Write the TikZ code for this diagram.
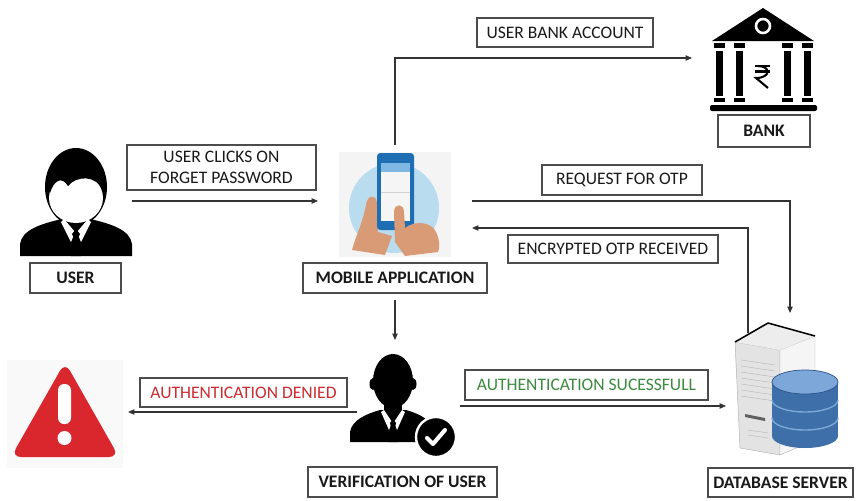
\documentclass[tikz,border=0pt]{standalone}
\usepackage{fontspec}
\setmainfont{Carlito}
\usetikzlibrary{arrows.meta,calc}

\definecolor{warnred}{HTML}{D9272D}
\definecolor{txtred}{HTML}{CC2B30}
\definecolor{txtgreen}{HTML}{3B8A3E}
\definecolor{skin}{HTML}{D99B76}
\definecolor{phone}{HTML}{1F6DB3}
\definecolor{phonelt}{HTML}{80B8E4}
\definecolor{bubble}{HTML}{BADCEF}
\definecolor{dbbody}{HTML}{3E6FA9}
\definecolor{dbtop}{HTML}{7CA7D8}
\definecolor{dbedge}{HTML}{2A5288}

\begin{document}
\begin{tikzpicture}[x=0.03cm, y=-0.03cm,
    box/.style ={draw=black!70, line width=1.1pt, inner sep=0pt, align=center,
                 text=black!90, font=\fontsize{15}{17.5}\selectfont},
    namebox/.style ={box, font=\fontsize{15}{17.5}\selectfont\bfseries},
    icon/.style ={inner sep=0pt, outer sep=0pt},
    arr/.style ={-{Triangle[length=1.9mm, width=1.6mm]}, line width=1pt, black!80}]
   \useasboundingbox (0,0) rectangle (862,500);

   % areas taken by the pictures
   \node[icon, minimum width=3.36cm, minimum height=3.24cm] (usr)  at (76,201)    {};
   \node[icon, minimum width=4.62cm, minimum height=3.36cm] (app)  at (395,201)   {};
   \node[icon, minimum width=4.26cm, minimum height=3.18cm] (bank) at (763,58)    {};
   \node[icon, minimum width=3.09cm, minimum height=3.96cm] (ver)  at (408.5,406) {};
   \node[icon, minimum width=3.63cm, minimum height=3.24cm] (warn) at (67.5,414)  {};
   \node[icon, minimum width=3.84cm, minimum height=4.41cm] (db)   at (790,386.5) {};

   % user
   \fill (20,256) -- (20,244) .. controls (22,230) and (40,224) .. (62,219) -- (90,219)
         .. controls (112,224) and (130,230) .. (132,244) -- (132,256) -- cycle;
   \fill (65,212) rectangle (87,228);
   \fill (76,187) ellipse [x radius=31, y radius=39];
   \fill[white] (76,198) ellipse [x radius=27, y radius=25];
   \fill (50,193) .. controls (54,180) and (62,176) .. (68,186)
         .. controls (76,176) and (96,174) .. (103,191) -- (103,168) -- (50,168) -- cycle;
   \fill[white] (64,219) -- (75,232) -- (71,242) -- (61,222) -- cycle;
   \fill[white] (88,219) -- (77,232) -- (81,242) -- (91,222) -- cycle;
   \fill (76,229) -- (72,234) -- (74,238) -- (71,256) -- (81,256) -- (78,238) -- (80,234) -- cycle;

   % mobile application
   \fill[gray!9] (339,152) rectangle (451,257);
   \fill[bubble] (394,208) circle [radius=45];
   \fill[skin] (352,250) .. controls (356,235) and (362,225) .. (366,205)
         .. controls (367,195) and (376,193) .. (377,203) -- (378,232) -- (392,236) -- (385,255) -- cycle;
   \fill[phone, rounded corners=0.1cm] (377,153) rectangle (414,230);
   \fill[gray!8] (381,163) rectangle (410,221);
   \fill[phonelt] (381,163) rectangle (410,172);
   \draw[gray!35] (381,192) -- (410,192);
   \fill[skin] (395,242) -- (394,212) .. controls (394,203) and (404,203) .. (404,212) -- (405,228)
         .. controls (415,220) and (432,222) .. (436,232) .. controls (440,240) and (440,248) .. (438,252)
         -- (405,256) -- cycle;

   % bank
   \fill (712,41) -- (763,8) -- (814,41) -- cycle;
   \filldraw[draw=white, line width=2.2pt] (763,26) circle [radius=7];
   \foreach \cx in {719,739,787,807}{
      \fill (\cx-5.5,43) rectangle (\cx+5.5,48);
      \fill (\cx-3.5,51) rectangle (\cx+3.5,96);
      \fill (\cx-5.5,98) rectangle (\cx+5.5,102);
   }
   \fill[rounded corners=0.06cm] (710,105) rectangle (817,111);
   \draw[line width=1.8pt] (755,66) -- (770,66) (755,71.5) -- (770,71.5);
   \draw[line width=1.8pt] (758,66) .. controls (771,66) and (771,78) .. (756,78) -- (768,88);

   % verification of user
   \fill (350,442) -- (350,432) .. controls (352,420) and (366,414) .. (380,410) -- (406,410)
         .. controls (420,414) and (432,420) .. (434,432) -- (434,442) -- cycle;
   \fill (384,398) rectangle (402,414);
   \fill (393,381) ellipse [x radius=20, y radius=27];
   \fill (373,384) ellipse [x radius=3.5, y radius=6];
   \fill (413,384) ellipse [x radius=3.5, y radius=6];
   \fill[white] (384,410) -- (392,422) -- (389,430) -- (381,412) -- cycle;
   \fill[white] (402,410) -- (394,422) -- (397,430) -- (405,412) -- cycle;
   \fill (393,419) -- (390,423) -- (391,427) -- (388,442) -- (398,442) -- (395,427) -- (396,423) -- cycle;
   \filldraw[draw=white, line width=2pt] (436,437) circle [radius=20];
   \draw[white, line width=3.5pt, line cap=round, line join=round] (427,438) -- (433,444) -- (445,430);

   % warning sign
   \fill[gray!5] (7,360) rectangle (123,468);
   \fill[warnred, rounded corners=0.3cm] (65,362) -- (119,457) -- (11,457) -- cycle;
   \fill[white, rounded corners=0.18cm] (58,384) rectangle (71,424);
   \fill[white] (64.5,438) circle [radius=7];

   % database server
   \filldraw[fill=gray!22, draw=gray!60] (735,342) -- (780,350) -- (780,455) -- (740,448) -- cycle;
   \filldraw[fill=gray!8, draw=gray!60] (780,350) -- (815,336) -- (815,440) -- (780,455) -- cycle;
   \fill[gray!14] (735,342) -- (768,323) -- (815,336) -- (780,350) -- cycle;
   \draw[line width=1.3pt, line join=round] (735,342) -- (768,323) -- (815,336);
   \foreach \y in {360,366,...,396}
      \draw[gray!55] (741,\y) -- (775,\y+5);
   \fill[gray!75!black] (745,414) -- (765,418) -- (765,421) -- (745,417) -- cycle;
   \foreach \y in {430,435}
      \draw[gray!55] (748,\y) -- (768,\y+3);
   \fill[dbbody] (772,382) rectangle (838,436);
   \fill[dbbody] (805,436) ellipse [x radius=33, y radius=12];
   \foreach \y in {400,418}
      \draw[dbtop, line width=1.2pt] (772,\y) arc [start angle=180, end angle=0, x radius=33, y radius=12];
   \filldraw[fill=dbtop, draw=dbedge, line width=0.6pt] (805,382) ellipse [x radius=33, y radius=12];

   % labels
   \node[box, minimum width=5.67cm, minimum height=1.35cm] (clicks) at (221.5,167.5) {USER CLICKS ON\\FORGET PASSWORD};
   \node[namebox, minimum width=2.73cm, minimum height=0.9cm] (usrlbl) at (75.5,278) {USER};
   \node[namebox, minimum width=5.52cm, minimum height=0.9cm] (applbl) at (395,278) {MOBILE APPLICATION};
   \node[box, minimum width=5.28cm, minimum height=0.87cm] (account) at (565,32.5) {USER BANK ACCOUNT};
   \node[namebox, minimum width=2.76cm, minimum height=0.96cm] (banklbl) at (764,131) {BANK};
   \node[box, minimum width=4.8cm, minimum height=0.9cm] (request) at (622,180) {REQUEST FOR OTP};
   \node[box, minimum width=6.3cm, minimum height=0.84cm] (encrypted) at (613,249) {ENCRYPTED OTP RECEIVED};
   \node[box, minimum width=6.21cm, minimum height=0.87cm, text=txtred] (denied) at (243.5,392.5) {AUTHENTICATION DENIED};
   \node[box, minimum width=7.29cm, minimum height=0.9cm, text=txtgreen] (success) at (586.5,385) {AUTHENTICATION SUCESSFULL};
   \node[namebox, minimum width=5.67cm, minimum height=0.9cm] (verlbl) at (402.5,482) {VERIFICATION OF USER};
   \node[namebox, minimum width=4.35cm, minimum height=0.87cm] (dblbl) at (780.5,482.5) {DATABASE SERVER};

   \coordinate (srvtop) at (748,333);
   \coordinate (noout) at ($(ver.west)+(0,6)$);

   \draw[arr] (usr) -- (app);
   \draw[arr] (app.north) |- (bank.west);
   \draw[arr] (app.east) -| (db.north);
   \draw[arr] (srvtop) |- ($(app.east)+(0,27)$);
   \draw[arr, shorten <=5pt] (applbl.south) -- (applbl.south |- ver.north);
   \draw[arr] (noout) -- (noout -| warn.east);
   \draw[arr] (ver) -- (ver -| db.west);

 \end{tikzpicture}
\end{document}
